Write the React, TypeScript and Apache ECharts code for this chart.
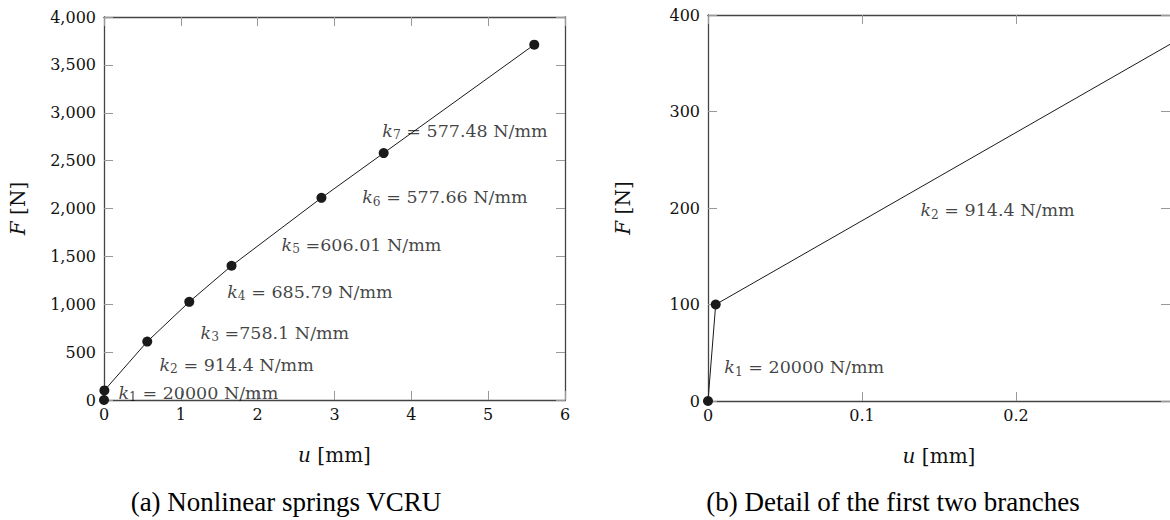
import React, { useEffect, useRef } from 'react';
import * as echarts from 'echarts';

// Data (u in mm, F in N)
const uData = [0, 0.005, 0.563, 1.11, 1.66, 2.83, 3.64, 5.6];
const fData = [0, 100, 610, 1025, 1402, 2111, 2579, 3711];

// Stiffness annotations
const kIndices = ['1', '2', '3', '4', '5', '6', '7'];
const kValues = ['20000', '914.4', '758.1', '685.79', '606.01', '577.66', '577.48'];
const kSeparators = [' = ', ' = ', ' =', ' = ', ' =', ' = ', ' = '];

// Annotation anchors (data units) for panel (a)
const leftLabelU = [0.182, 0.716, 1.25, 1.598, 2.305, 3.355, 3.616];
const leftLabelF = [76, 366, 700, 1132, 1620, 2115, 2812];

// Annotation anchors (data units) for panel (b)
const rightLabelIdx = [0, 1];
const rightLabelU = [0.0103, 0.1376];
const rightLabelF = [35, 197.6];

// Axis ranges
const leftX = { min: 0, max: 6, interval: 1 };
const leftY = { min: 0, max: 4000, interval: 500 };
const rightX = { min: 0, max: 0.3, interval: 0.1 };
const rightY = { min: 0, max: 400, interval: 100 };

const captions = ['(a) Nonlinear springs VCRU', '(b) Detail of the first two branches'];

const SERIF = '"DejaVu Serif", serif';
const TEXT = '#111';
const AXIS = '#444';
const TICK = '#999';

const mathRich = (size: number) => ({
  i: { fontStyle: 'italic', fontFamily: SERIF, fontSize: size, color: TEXT },
  s: { fontFamily: SERIF, fontSize: size * 0.7, color: TEXT, padding: [9, 0, 0, 0] },
  t: { fontFamily: SERIF, fontSize: size, color: TEXT },
});

const kLabel = (i: number) => `{i|k}{s|${kIndices[i]}}{t|${kSeparators[i]}${kValues[i]} N/mm}`;

function xAxes(gridIndex: number, r: any, nameGap: number, hideMax: boolean) {
  const common = {
    type: 'value',
    gridIndex,
    min: r.min,
    max: r.max,
    interval: r.interval,
    splitLine: { show: false },
    axisLine: { show: true, onZero: false, lineStyle: { color: AXIS, width: 1.3 } },
    axisTick: { show: true, inside: true, length: 9, lineStyle: { color: TICK, width: 1 } },
  };
  return [
    {
      ...common,
      position: 'bottom',
      axisLabel: { color: TEXT, fontFamily: SERIF, fontSize: 16, margin: 6, showMaxLabel: !hideMax },
      name: '{i|u} [mm]',
      nameLocation: 'middle',
      nameGap,
      nameTextStyle: { fontFamily: SERIF, fontSize: 20, color: TEXT, rich: mathRich(20) },
    },
    { ...common, position: 'top', axisLabel: { show: false } },
  ];
}

function yAxes(gridIndex: number, r: any, nameGap: number, rightLine: boolean, fmt?: (v: number) => string) {
  const common = {
    type: 'value',
    gridIndex,
    min: r.min,
    max: r.max,
    interval: r.interval,
    splitLine: { show: false },
    axisLine: { show: true, onZero: false, lineStyle: { color: AXIS, width: 1.3 } },
    axisTick: { show: true, inside: true, length: 9, lineStyle: { color: TICK, width: 1 } },
  };
  return [
    {
      ...common,
      position: 'left',
      axisLabel: { color: TEXT, fontFamily: SERIF, fontSize: 16, margin: 8, formatter: fmt },
      name: '{i|F} [N]',
      nameLocation: 'middle',
      nameRotate: 90,
      nameGap,
      nameTextStyle: { fontFamily: SERIF, fontSize: 20, color: TEXT, rich: mathRich(20) },
    },
    {
      ...common,
      position: 'right',
      axisLabel: { show: false },
      axisLine: { ...common.axisLine, show: rightLine },
    },
  ];
}

const points = uData.map((u, i) => [u, fData[i]]);

const lineSeries = (xi: number, yi: number) => ({
  type: 'line',
  xAxisIndex: xi,
  yAxisIndex: yi,
  data: points,
  symbol: 'circle',
  symbolSize: 10,
  showAllSymbol: true,
  clip: true,
  itemStyle: { color: '#1a1a1a' },
  lineStyle: { color: '#1a1a1a', width: 1 },
  z: 3,
});

const labelSeries = (xi: number, yi: number, data: any[]) => ({
  type: 'scatter',
  xAxisIndex: xi,
  yAxisIndex: yi,
  symbol: 'circle',
  symbolSize: 1,
  silent: true,
  itemStyle: { color: 'rgba(0,0,0,0)' },
  z: 5,
  label: {
    show: true,
    position: 'right',
    distance: 0,
    color: TEXT,
    rich: mathRich(17.5),
  },
  data,
});

export default function App() {
  const ref = useRef<HTMLDivElement>(null);
  useEffect(() => {
    if (!ref.current) return;
    const chart = echarts.init(ref.current, undefined, { renderer: 'svg' });
    const leftLabels = leftLabelU.map((u, i) => ({
      value: [u, leftLabelF[i]],
      label: { show: true, formatter: kLabel(i) },
    }));
    const rightLabels = rightLabelIdx.map((k, i) => ({
      value: [rightLabelU[i], rightLabelF[i]],
      label: { show: true, formatter: kLabel(k) },
    }));
    chart.setOption({
      animation: false,
      backgroundColor: '#fff',
      grid: [
        { left: 104, top: 17, width: 461, height: 383 },
        { left: 708, top: 15, width: 466, height: 386 },
      ],
      xAxis: [...xAxes(0, leftX, 45, false), ...xAxes(1, rightX, 45, true)],
      yAxis: [
        ...yAxes(0, leftY, 76, true, (v: number) => v.toLocaleString('en-US')),
        ...yAxes(1, rightY, 75, false),
      ],
      series: [
        lineSeries(0, 0),
        lineSeries(2, 2),
        labelSeries(0, 0, leftLabels),
        labelSeries(2, 2, rightLabels),
      ],
      graphic: [
        {
          type: 'text',
          x: 286,
          y: 502,
          style: {
            text: captions[0],
            fontFamily: '"Liberation Serif", serif',
            fontSize: 27,
            fill: '#000',
            align: 'center',
            verticalAlign: 'middle',
          },
        },
        {
          type: 'text',
          x: 893,
          y: 502,
          style: {
            text: captions[1],
            fontFamily: '"Liberation Serif", serif',
            fontSize: 27,
            fill: '#000',
            align: 'center',
            verticalAlign: 'middle',
          },
        },
      ],
    });
    return () => chart.dispose();
  }, []);
  return (
    <div
      ref={ref}
      style={{ position: 'absolute', left: 0, top: 0, width: 1170, height: 520, background: '#fff' }}
    />
  );
}
